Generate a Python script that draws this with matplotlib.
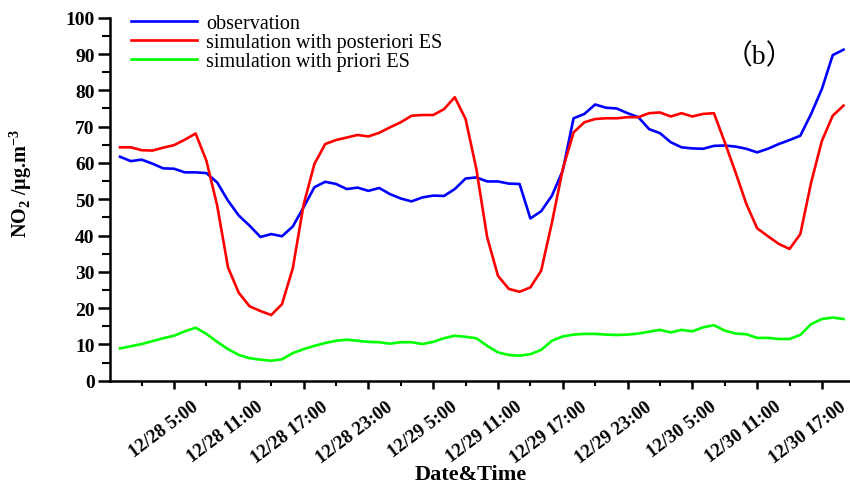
import matplotlib
matplotlib.use("Agg")
import matplotlib.pyplot as plt
import matplotlib.transforms as mtransforms
from matplotlib.ticker import MultipleLocator, FixedLocator

# hourly values from 12/28 0:00 to 12/30 19:00
observation = [
    61.7, 60.5, 60.9, 59.8, 58.5, 58.4, 57.4, 57.4, 57.2, 54.6,
    49.6, 45.5, 42.7, 39.6, 40.4, 39.8, 42.5, 47.8, 53.3, 54.8,
    54.2, 52.8, 53.2, 52.3, 53.1, 51.4, 50.2, 49.4, 50.5, 51.0,
    50.9, 52.8, 55.7, 56.0, 54.9, 54.9, 54.3, 54.2, 44.7, 46.7,
    51.0, 57.9, 72.3, 73.5, 76.1, 75.2, 75.0, 73.7, 72.6, 69.3,
    68.2, 65.7, 64.3, 64.0, 63.9, 64.7, 64.8, 64.5, 63.9, 62.9,
    63.9, 65.2, 66.3, 67.5, 73.5, 80.4, 89.7, 91.2,
]
posteriori = [
    64.3, 64.3, 63.5, 63.4, 64.2, 64.9, 66.4, 68.1, 60.6, 48.2,
    31.2, 24.2, 20.5, 19.2, 18.1, 21.1, 31.0, 48.5, 59.7, 65.2,
    66.3, 67.0, 67.7, 67.3, 68.3, 69.8, 71.2, 73.0, 73.2, 73.2,
    74.8, 78.1, 72.1, 58.3, 39.5, 28.9, 25.3, 24.5, 25.7, 30.3,
    43.6, 58.3, 68.4, 71.2, 72.1, 72.3, 72.3, 72.6, 72.6, 73.7,
    73.9, 72.8, 73.7, 72.8, 73.5, 73.7, 65.7, 57.4, 48.7, 42.0,
    39.8, 37.7, 36.3, 40.4, 54.6, 66.1, 73.0, 75.8,
]
priori = [
    8.9, 9.5, 10.1, 10.9, 11.7, 12.4, 13.6, 14.6, 12.9, 10.7,
    8.7, 7.1, 6.2, 5.8, 5.5, 5.9, 7.6, 8.7, 9.6, 10.4,
    11.0, 11.3, 11.0, 10.7, 10.6, 10.2, 10.6, 10.6, 10.1, 10.7,
    11.7, 12.4, 12.1, 11.7, 9.6, 7.8, 7.1, 6.9, 7.3, 8.5,
    11.0, 12.2, 12.7, 12.9, 12.9, 12.7, 12.6, 12.7, 13.0, 13.5,
    14.0, 13.3, 14.0, 13.6, 14.7, 15.3, 13.8, 13.0, 12.8, 11.8,
    11.8, 11.5, 11.5, 12.6, 15.6, 17.0, 17.4, 17.0,
]
hours = list(range(len(observation)))

tick_hours = [5, 11, 17, 23, 29, 35, 41, 47, 53, 59, 65]
tick_labels = ["12/28 5:00", "12/28 11:00", "12/28 17:00", "12/28 23:00",
               "12/29 5:00", "12/29 11:00", "12/29 17:00", "12/29 23:00",
               "12/30 5:00", "12/30 11:00", "12/30 17:00"]

serif = "Liberation Serif"
plt.rcParams["mathtext.fontset"] = "custom"
plt.rcParams["mathtext.bf"] = "Liberation Serif:bold"
plt.rcParams["mathtext.rm"] = "Liberation Serif:bold"

fig = plt.figure(figsize=(8.5, 4.89), dpi=100)
ax = fig.add_axes([0.1294, 0.2194, 0.8706, 0.7423])

ax.plot(hours, observation, color="#0000ff", lw=1.9, label="observation")
ax.plot(hours, posteriori, color="#ff0000", lw=1.9,
        label="simulation with posteriori ES")
ax.plot(hours, priori, color="#00ff00", lw=1.9,
        label="simulation with priori ES")

ax.set_xlim(-0.93, 67.6)
ax.set_ylim(0, 100)

for side in ["top", "right"]:
    ax.spines[side].set_visible(False)
for side in ["left", "bottom"]:
    ax.spines[side].set_linewidth(1.8)

ax.yaxis.set_major_locator(MultipleLocator(10))
ax.yaxis.set_minor_locator(MultipleLocator(5))
ax.xaxis.set_major_locator(FixedLocator(tick_hours))
ax.xaxis.set_minor_locator(MultipleLocator(6, offset=2))
ax.tick_params(axis="y", which="major", direction="out", length=9, width=1.8,
               pad=2)
ax.tick_params(axis="y", which="minor", direction="out", length=5.5, width=1.5)
ax.tick_params(axis="x", which="major", direction="out", length=6, width=1.8)
ax.tick_params(axis="x", which="minor", direction="out", length=3.5, width=1.5)

ax.set_xticklabels(tick_labels)
offset = mtransforms.ScaledTranslation(17 / 100, -4 / 100, fig.dpi_scale_trans)
for lbl in ax.get_xticklabels():
    lbl.set_rotation(37)
    lbl.set_ha("right")
    lbl.set_va("top")
    lbl.set_rotation_mode("anchor")
    lbl.set_fontfamily(serif)
    lbl.set_fontweight("bold")
    lbl.set_fontsize(13.5)
    lbl.set_transform(lbl.get_transform() + offset)
for lbl in ax.get_yticklabels():
    lbl.set_fontfamily(serif)
    lbl.set_fontweight("bold")
    lbl.set_fontsize(14)

ax.set_xlabel("Date&Time", fontfamily=serif, fontweight="bold", fontsize=16)
ax.xaxis.set_label_coords(0.487, -0.229)
ax.set_ylabel(r"NO$_\mathbf{2}$ /μg.m$^\mathbf{-3}$", fontfamily=serif,
              fontweight="bold", fontsize=14.5)
ax.yaxis.set_label_coords(-0.103, 0.545)

ax.legend(loc="upper left", bbox_to_anchor=(0.012, 1.045), frameon=False,
          prop={"family": serif, "size": 14.5}, handlelength=3.3,
          handletextpad=0.45, labelspacing=0.0, borderaxespad=0.2)

ax.text(0.877, 0.895, "（b）", transform=ax.transAxes, ha="center",
        va="center", fontsize=20, family=[serif, "Noto Sans CJK SC"])

fig.savefig("out.png", dpi=100, facecolor="white")
